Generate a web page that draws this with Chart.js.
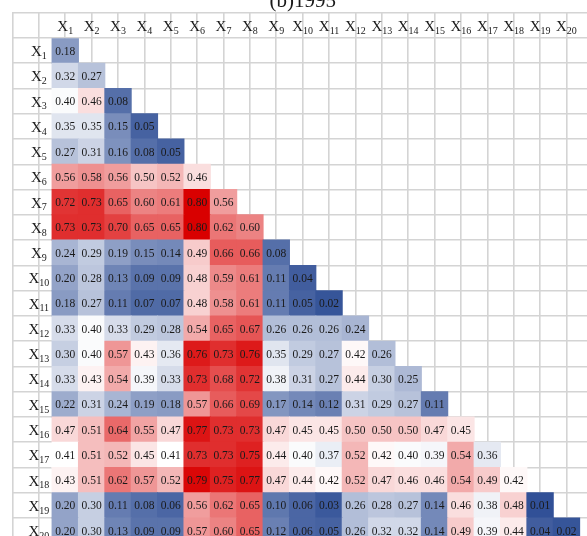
<!DOCTYPE html>
<html>
<head>
<meta charset="utf-8">
<script src="https://cdn.jsdelivr.net/npm/chart.js@4.4.1/dist/chart.umd.min.js"></script>
<style>
  html, body { margin: 0; padding: 0; background: #fff; }
</style>
</head>
<body>
<canvas id="heat" width="587" height="536"></canvas>
<script>
// Chart data
const title = '(b)1995';
const subs = ['1', '2', '3', '4', '5', '6', '7', '8', '9', '10',
  '11', '12', '13', '14', '15', '16', '17', '18', '19', '20'];

// lower triangle of the matrix, row by row (X1..X20)
const corr = [
  [0.18],
  [0.32, 0.27],
  [0.40, 0.46, 0.08],
  [0.35, 0.35, 0.15, 0.05],
  [0.27, 0.31, 0.16, 0.08, 0.05],
  [0.56, 0.58, 0.56, 0.50, 0.52, 0.46],
  [0.72, 0.73, 0.65, 0.60, 0.61, 0.80, 0.56],
  [0.73, 0.73, 0.70, 0.65, 0.65, 0.80, 0.62, 0.60],
  [0.24, 0.29, 0.19, 0.15, 0.14, 0.49, 0.66, 0.66, 0.08],
  [0.20, 0.28, 0.13, 0.09, 0.09, 0.48, 0.59, 0.61, 0.11, 0.04],
  [0.18, 0.27, 0.11, 0.07, 0.07, 0.48, 0.58, 0.61, 0.11, 0.05, 0.02],
  [0.33, 0.40, 0.33, 0.29, 0.28, 0.54, 0.65, 0.67, 0.26, 0.26, 0.26, 0.24],
  [0.30, 0.40, 0.57, 0.43, 0.36, 0.76, 0.73, 0.76, 0.35, 0.29, 0.27, 0.42, 0.26],
  [0.33, 0.43, 0.54, 0.39, 0.33, 0.73, 0.68, 0.72, 0.38, 0.31, 0.27, 0.44, 0.30, 0.25],
  [0.22, 0.31, 0.24, 0.19, 0.18, 0.57, 0.66, 0.69, 0.17, 0.14, 0.12, 0.31, 0.29, 0.27, 0.11],
  [0.47, 0.51, 0.64, 0.55, 0.47, 0.77, 0.73, 0.73, 0.47, 0.45, 0.45, 0.50, 0.50, 0.50, 0.47, 0.45],
  [0.41, 0.51, 0.52, 0.45, 0.41, 0.73, 0.73, 0.75, 0.44, 0.40, 0.37, 0.52, 0.42, 0.40, 0.39, 0.54, 0.36],
  [0.43, 0.51, 0.62, 0.57, 0.52, 0.79, 0.75, 0.77, 0.47, 0.44, 0.42, 0.52, 0.47, 0.46, 0.46, 0.54, 0.49, 0.42],
  [0.20, 0.30, 0.11, 0.08, 0.06, 0.56, 0.62, 0.65, 0.10, 0.06, 0.03, 0.26, 0.28, 0.27, 0.14, 0.46, 0.38, 0.48, 0.01],
  [0.20, 0.30, 0.13, 0.09, 0.09, 0.57, 0.60, 0.65, 0.12, 0.06, 0.05, 0.26, 0.32, 0.32, 0.14, 0.49, 0.39, 0.44, 0.04, 0.02]
];

// colour scale: blue -> white -> red
const lowColor = [44, 76, 148];
const midColor = [255, 255, 255];
const highColor = [217, 0, 0];
const scaleStops = [0.0, 0.41, 0.80];

const serif = '"Liberation Serif", "Times New Roman", serif';

function colorFor(v) {
  let a, b, t;
  if (v <= scaleStops[1]) {
    a = lowColor; b = midColor;
    t = (v - scaleStops[0]) / (scaleStops[1] - scaleStops[0]);
  } else {
    a = midColor; b = highColor;
    t = (v - scaleStops[1]) / (scaleStops[2] - scaleStops[1]);
  }
  t = Math.max(0, Math.min(1, t));
  const c = a.map((x, k) => Math.round(x + (b[k] - x) * t));
  return `rgb(${c[0]}, ${c[1]}, ${c[2]})`;
}

// one floating bar per cell
const cells = [];
corr.forEach((row, i) => {
  row.forEach((v, j) => {
    cells.push({ x: j + 0.5, y: [i, i + 1], v: v });
  });
});

function intTicks(scale) {
  const t = [];
  for (let k = Math.ceil(scale.min); k <= scale.max; k++) t.push({ value: k });
  scale.ticks = t;
}

// "X" with a subscript number, centered on (cx, cy)
function drawLabel(ctx, sub, cx, cy) {
  ctx.font = '15px ' + serif;
  const wx = ctx.measureText('X').width;
  ctx.font = '10px ' + serif;
  const ws = ctx.measureText(sub).width;
  const left = cx - (wx + ws) / 2;
  ctx.font = '15px ' + serif;
  ctx.fillText('X', left, cy + 5.4);
  ctx.font = '10px ' + serif;
  ctx.fillText(sub, left + wx, cy + 8.2);
}

const textPlugin = {
  id: 'cellText',
  afterDatasetsDraw(chart) {
    const ctx = chart.ctx;
    const xs = chart.scales.x;
    const ys = chart.scales.y;
    const meta = chart.getDatasetMeta(0);
    ctx.save();
    ctx.fillStyle = '#1a1a1a';
    ctx.textBaseline = 'alphabetic';

    // values
    ctx.font = '11.5px ' + serif;
    ctx.textAlign = 'center';
    meta.data.forEach((bar, k) => {
      const cy = (bar.y + bar.base) / 2;
      ctx.fillText(cells[k].v.toFixed(2), bar.x, cy + 4);
    });

    // header row and first column
    ctx.textAlign = 'left';
    subs.forEach((s, i) => {
      drawLabel(ctx, s, xs.getPixelForValue(i + 0.5), ys.getPixelForValue(-0.5));
      drawLabel(ctx, s, xs.getPixelForValue(-0.5), ys.getPixelForValue(i + 0.5));
    });

    // title (cut off at the top, like the source)
    ctx.textAlign = 'center';
    ctx.font = '21px ' + serif;
    const mid = (xs.getPixelForValue(-1) + xs.getPixelForValue(20)) / 2;
    ctx.fillText(title, mid, 7);
    ctx.restore();
  }
};

new Chart(document.getElementById('heat'), {
  type: 'bar',
  data: {
    datasets: [{
      data: cells,
      backgroundColor: c => colorFor(c.raw.v),
      borderWidth: 0,
      inflateAmount: 0.5,
      categoryPercentage: 1,
      barPercentage: 1
    }]
  },
  options: {
    responsive: false,
    animation: false,
    devicePixelRatio: 1,
    layout: { padding: { left: 12, top: 12.7, right: 0, bottom: 0 } },
    plugins: {
      legend: { display: false },
      tooltip: { enabled: false }
    },
    scales: {
      x: {
        type: 'linear',
        min: -1,
        max: 19.76,
        afterBuildTicks: intTicks,
        ticks: { display: false },
        grid: { color: '#d4d4d4', lineWidth: 1.6, drawTicks: false },
        border: { display: false }
      },
      y: {
        type: 'linear',
        reverse: true,
        min: -1,
        max: 19.71,
        afterBuildTicks: intTicks,
        ticks: { display: false },
        grid: { color: '#d4d4d4', lineWidth: 1.6, drawTicks: false },
        border: { display: false }
      }
    }
  },
  plugins: [textPlugin]
});
</script>
</body>
</html>
